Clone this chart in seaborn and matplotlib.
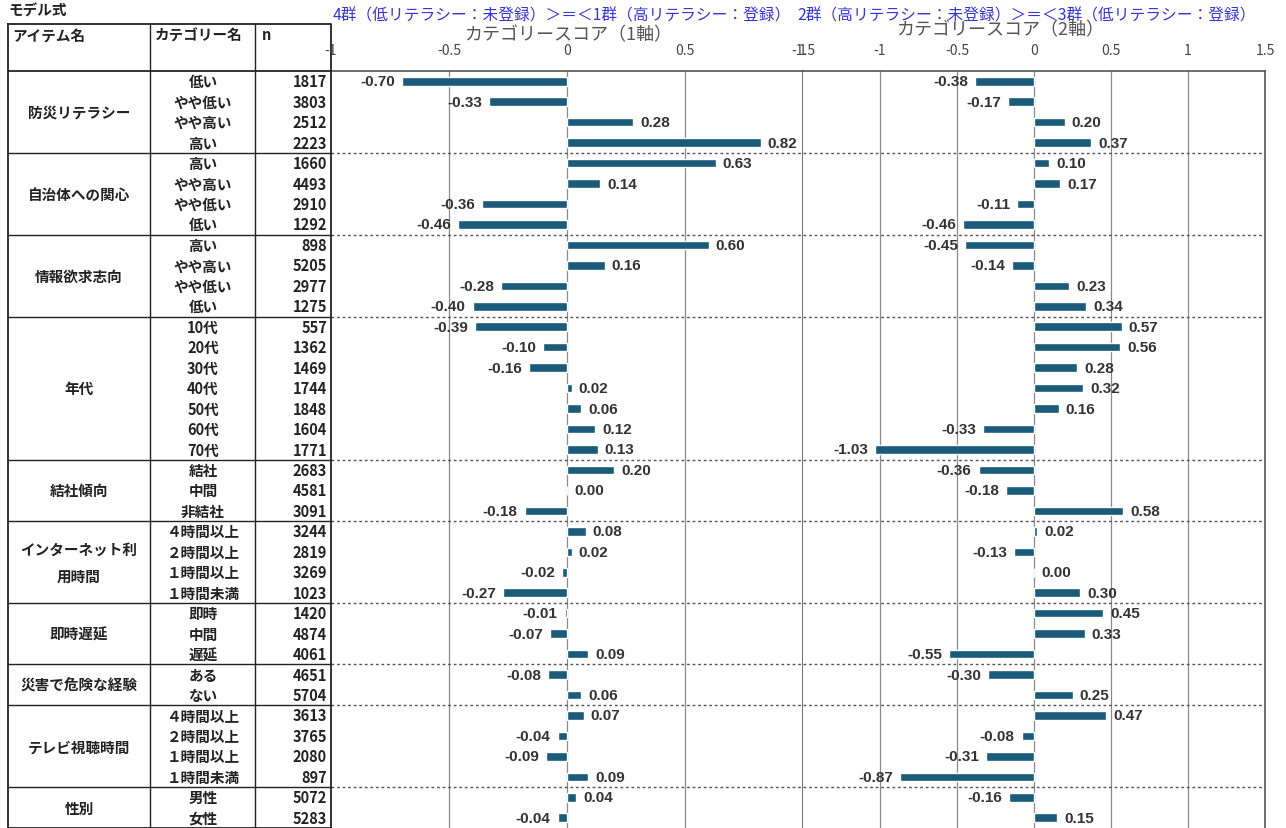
import numpy as np
import pandas as pd
import matplotlib
matplotlib.use("Agg")
import matplotlib.pyplot as plt
import seaborn as sns

# ---- data ----
items = ["防災リテラシー", "自治体への関心", "情報欲求志向", "年代", "結社傾向",
         "インターネット利\n用時間", "即時遅延", "災害で危険な経験", "テレビ視聴時間", "性別"]
group_sizes = [4, 4, 4, 7, 3, 4, 3, 2, 4, 2]

categories = ["低い", "やや低い", "やや高い", "高い",
              "高い", "やや高い", "やや低い", "低い",
              "高い", "やや高い", "やや低い", "低い",
              "10代", "20代", "30代", "40代", "50代", "60代", "70代",
              "結社", "中間", "非結社",
              "４時間以上", "２時間以上", "１時間以上", "１時間未満",
              "即時", "中間", "遅延",
              "ある", "ない",
              "４時間以上", "２時間以上", "１時間以上", "１時間未満",
              "男性", "女性"]
n_values = [1817, 3803, 2512, 2223,
            1660, 4493, 2910, 1292,
            898, 5205, 2977, 1275,
            557, 1362, 1469, 1744, 1848, 1604, 1771,
            2683, 4581, 3091,
            3244, 2819, 3269, 1023,
            1420, 4874, 4061,
            4651, 5704,
            3613, 3765, 2080, 897,
            5072, 5283]
score_axis1 = [-0.70, -0.33, 0.28, 0.82,
               0.63, 0.14, -0.36, -0.46,
               0.60, 0.16, -0.28, -0.40,
               -0.39, -0.10, -0.16, 0.02, 0.06, 0.12, 0.13,
               0.20, 0.00, -0.18,
               0.08, 0.02, -0.02, -0.27,
               -0.01, -0.07, 0.09,
               -0.08, 0.06,
               0.07, -0.04, -0.09, 0.09,
               0.04, -0.04]
score_axis2 = [-0.38, -0.17, 0.20, 0.37,
               0.10, 0.17, -0.11, -0.46,
               -0.45, -0.14, 0.23, 0.34,
               0.57, 0.56, 0.28, 0.32, 0.16, -0.33, -1.03,
               -0.36, -0.18, 0.58,
               0.02, -0.13, 0.00, 0.30,
               0.45, 0.33, -0.55,
               -0.30, 0.25,
               0.47, -0.08, -0.31, -0.87,
               -0.16, 0.15]

title1 = "4群（低リテラシー：未登録）＞＝＜1群（高リテラシー：登録）"
title2 = "2群（高リテラシー：未登録）＞＝＜3群（低リテラシー：登録）"

df = pd.DataFrame({"row": np.arange(len(categories)),
                   "s1": score_axis1, "s2": score_axis2})
nrows = len(df)

sns.set_theme(style="white")
plt.rcParams['font.family'] = ['Noto Sans CJK JP', 'DejaVu Sans']

W, H = 1286, 829
fig = plt.figure(figsize=(W / 100, H / 100), dpi=100)


def rect(x0, y0, x1, y1):
    return [x0 / W, 1 - y1 / H, (x1 - x0) / W, (y1 - y0) / H]


BAR = "#1b5a78"
TOP, BOTTOM = 72, 829
row_px = (BOTTOM - TOP) / nrows
boundaries = np.cumsum(group_sizes)[:-1] - 0.5

# ---- bar panels ----
ax1 = fig.add_axes(rect(331, TOP, 803, BOTTOM))
ax2 = fig.add_axes(rect(803, TOP, 1265, BOTTOM))

for ax, col, lim, ticks, tlabels in [
        (ax1, "s1", (-1, 1), [-1, -0.5, 0, 0.5, 1], ["-1", "-0.5", "0", "0.5", "1"]),
        (ax2, "s2", (-1.5, 1.5), [-1.5, -1, -0.5, 0, 0.5, 1, 1.5],
         ["-1.5", "-1", "-0.5", "0", "0.5", "1", "1.5"])]:
    sns.barplot(data=df, x=col, y="row", orient="h", color=BAR, width=0.42,
                saturation=1, ax=ax)
    ax.set_xlim(*lim)
    ax.set_ylim(nrows - 0.5, -0.5)
    for t in ticks[1:-1]:
        ax.axvline(t, color="#8a8a8a", lw=0.9, zorder=0)
    for b in boundaries:
        ax.axhline(b, color="#555555", lw=1.0, ls=(0, (2, 2)), zorder=0)
    ax.xaxis.tick_top()
    ax.set_xticks(ticks)
    ax.set_xticklabels(tlabels)
    ax.tick_params(axis="x", length=0, pad=10, labelsize=10, labelcolor="#444444")
    ax.set_yticks([])
    ax.set_xlabel("")
    ax.set_ylabel("")
    for side in ["top", "right", "left"]:
        ax.spines[side].set_color("#555555")
        ax.spines[side].set_linewidth(1.2)
    ax.spines["bottom"].set_visible(False)
    for i, v in enumerate(df[col]):
        off = 5 if v >= 0 else -5
        ax.annotate(f"{v:.2f}", (v, i), xytext=(off, 0), textcoords="offset points",
                    ha="left" if v >= 0 else "right", va="center",
                    fontsize=11, fontweight="bold", color="#333333",
                    family=["Liberation Sans", "DejaVu Sans"])

ax1.spines["left"].set_visible(False)
ax2.spines["left"].set_visible(False)

fig.text(568 / W, 1 - 35 / H, "カテゴリースコア（1軸）", ha="center", va="center",
         fontsize=13, color="#555555")
fig.text(1000 / W, 1 - 30 / H, "カテゴリースコア（2軸）", ha="center", va="center",
         fontsize=13, color="#555555")
fig.text(333 / W, 1 - 16 / H, title1, ha="left", va="center", fontsize=11.3, color="#3535d0")
fig.text(797 / W, 1 - 16 / H, title2, ha="left", va="center", fontsize=11.3, color="#3535d0")

# ---- table ----
HEAD = 25
tax = fig.add_axes(rect(8, HEAD, 331, BOTTOM))
head_rows = (TOP - HEAD) / row_px
tax.set_xlim(8, 331)
tax.set_ylim(nrows - 0.5, -0.5 - head_rows)
tax.axis("off")
top_y = -0.5 - head_rows
lc = "#222222"
tax.plot([8, 331, 331, 8, 8], [top_y, top_y, nrows - 0.5, nrows - 0.5, top_y],
         color=lc, lw=1.3, clip_on=False)
tax.plot([8, 331], [-0.5, -0.5], color=lc, lw=1.3)
for x in [150, 255]:
    tax.plot([x, x], [top_y, nrows - 0.5], color=lc, lw=1.0)
for b in boundaries:
    tax.plot([8, 331], [b, b], color=lc, lw=1.0)

tfont = dict(fontsize=10.5, fontweight="bold", color="#222222")
tax.text(12, top_y + 0.5, "アイテム名", ha="left", va="center", **tfont)
tax.text(155, top_y + 0.5, "カテゴリー名", ha="left", va="center", **tfont)
tax.text(262, top_y + 0.5, "n", ha="left", va="center", **tfont)

start = 0
for name, size in zip(items, group_sizes):
    tax.text(79, start + (size - 1) / 2, name, ha="center", va="center",
             linespacing=1.9, **tfont)
    start += size
for i, (c, n) in enumerate(zip(categories, n_values)):
    tax.text(203, i, c, ha="center", va="center", **tfont)
    tax.text(327, i, str(n), ha="right", va="center", **tfont)

fig.text(8 / W, 1 - 11 / H, "モデル式", ha="left", va="center", **tfont)

fig.savefig("out.png", dpi=100)
